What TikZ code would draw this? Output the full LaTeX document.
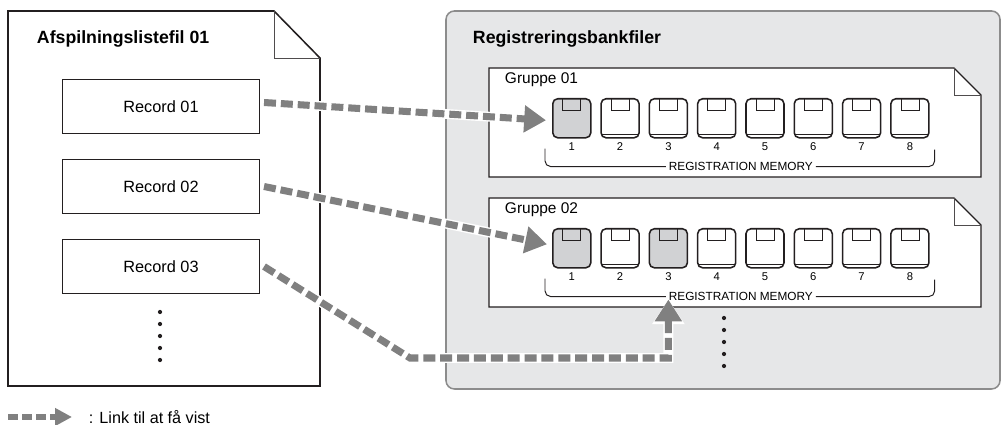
\documentclass[tikz,border=0pt]{standalone}
\usepackage{fontspec}
\setmainfont{Liberation Sans}
\usetikzlibrary{positioning,arrows.meta,calc}
\definecolor{rbink}{HTML}{231F20}
\definecolor{rbgrey}{HTML}{808080}
\definecolor{rbpanel}{HTML}{E6E7E8}
\definecolor{rbedge}{HTML}{8C8C8C}
\definecolor{rbkeyon}{HTML}{D1D2D4}
\tikzset{
  doc/.style    ={draw=rbink, line width=1.1pt, fill=white, line join=miter},
  flap/.style   ={draw=rbink!80, line width=0.6pt},
  title/.style  ={anchor=base west, font=\fontsize{12.6}{15}\selectfont\bfseries},
  record/.style ={draw=rbink, line width=0.7pt, fill=white, minimum width=4.925cm,
                  minimum height=1.35cm, inner sep=0pt, font=\fontsize{11.6}{14}\selectfont},
  grp/.style    ={anchor=base west, font=\fontsize{11}{13}\selectfont},
  key/.style    ={draw=rbink, line width=1.1pt, fill=white, rounded corners=3.5pt,
                  minimum width=0.95cm, minimum height=0.975cm, inner sep=0pt,
                  path picture={\draw[rbink, line width=0.5pt]
                    ($(path picture bounding box.south west)+(0,-3.5)$) --
                    ($(path picture bounding box.south east)+(0,-3.5)$);}},
  keyon/.style  ={key, fill=rbkeyon, path picture={}},
  keytab/.style ={draw=rbink, line width=0.5pt, minimum width=0.45cm,
                  minimum height=0.3cm, inner sep=0pt, anchor=north},
  keyno/.style  ={font=\fontsize{8}{9}\selectfont, inner sep=1pt},
  memo/.style   ={font=\fontsize{8.4}{10}\selectfont, inner sep=2pt},
  brk/.style    ={draw=rbink, line width=0.7pt, rounded corners=4pt},
  dot/.style    ={circle, fill=rbink, inner sep=0pt, minimum size=3pt},
  link/.style   ={draw=rbgrey, line width=5pt, dash pattern=on 8.5pt off 3.5pt,
                  -{Triangle[length=15.5pt,width=18.5pt]},
                  preaction={draw=white, solid, line width=7pt,
                             -{Triangle[length=17.5pt,width=22pt]}}},
}

\begin{document}
\begin{tikzpicture}[x=0.025cm, y=-0.025cm]
  \useasboundingbox (0,0) rectangle (1002,425);

  % playlist file
  \draw[doc] (8,11) -- (274,11) -- (320,58) -- (320,386) -- (8,386) -- cycle;
  \draw[flap] (274,11) |- (320,58);
  \node[title] (pltitle) at (32,44) {Afspilningslistefil 01};
  \node[record, anchor=north west] (rec1) at (62,79) {Record 01};
  \node[record, below=0.625cm of rec1] (rec2) {Record 02};
  \node[record, below=0.625cm of rec2] (rec3) {Record 03};

  % bank files
  \draw[draw=rbedge, fill=rbpanel, line width=1.1pt, rounded corners=6pt]
    (446,11) rectangle (1000,389);
  \node[title] (rbtitle) at (468,44) {Registreringsbankfiler};

  \foreach \gi/\gy/\nm/\keys in {a/0/01/{keyon,key,key,key,key,key,key,key},
                                 b/130/02/{keyon,key,keyon,key,key,key,key,key}} {
    \draw[doc, line width=0.9pt] (489,68+\gy) -- (954,68+\gy) -- (981,95+\gy)
      -- (981,177+\gy) -- (489,177+\gy) -- cycle;
    \draw[flap] (954,68+\gy) |- (981,95+\gy);
    \node[grp] (g\gi) at (500,84+\gy) {Gruppe \nm};
    \foreach [count=\i] \k in \keys {
      \node[\k, anchor=north west] (g\gi\i) at ({552+48.3*(\i-1)},98+\gy) {};
      \node[keytab] at (g\gi\i.north) {};
      \node[keyno, below=2pt of g\gi\i] {\i};
    }
    \node[memo] (g\gi mem) at ($(g\gi4.south east)!0.5!(g\gi5.south west)+(0,28)$)
      {REGISTRATION MEMORY};
    \draw[brk] ($(g\gi1.south west)+(-7,10)$) |- (g\gi mem.west);
    \draw[brk] (g\gi mem.east) -| ($(g\gi8.south east)+(5,11)$);
  }

  % dots
  \foreach \d in {0,...,4} {
    \node[dot] at (160,312+12*\d) {};
    \node[dot] at (724,318+12*\d) {};
  }

  % links
  \coordinate (bend) at (410,358);
  \draw[link] ($(rec1.east)+(4,-4)$) -- ($(ga1.west)+(-6,2)$);
  \draw[link] ($(rec2.east)+(4,0)$) -- ($(gb1.west)+(-5,-4)$);
  \draw[link] ($(rec3.east)+(4,0)$) -- (bend) -| ($(gb3.south)+(0,31)$);

  % legend
  \coordinate (lgA) at (8,417);
  \coordinate (lgB) at (72,417);
  \draw[link, line width=4pt, dash pattern=on 7pt off 3pt,
        -{Triangle[length=12pt,width=12pt]}] (lgA) -- (lgB);
  \node[anchor=west, font=\fontsize{11.5}{14}\selectfont] (lgtext) at (84,417)
    {: Link til at få vist};
\end{tikzpicture}
\end{document}
